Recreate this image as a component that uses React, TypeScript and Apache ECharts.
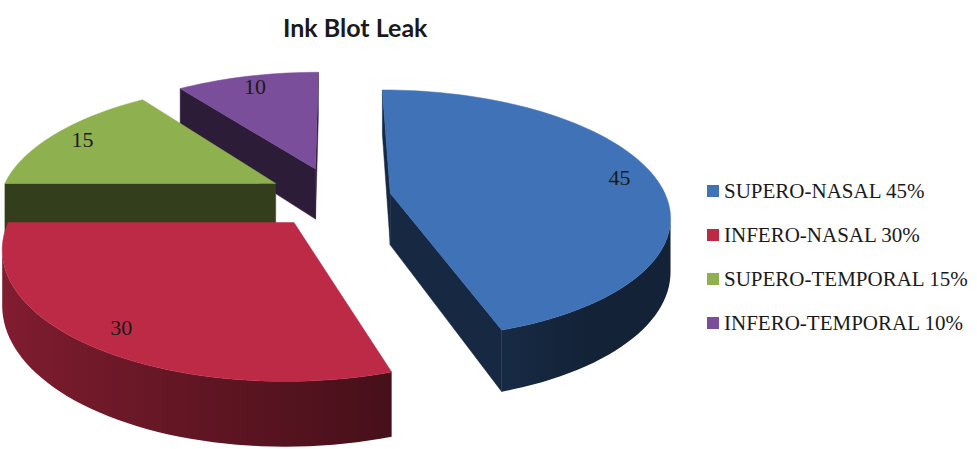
import React, { useEffect, useRef } from 'react';
import * as echarts from 'echarts';

const categories = ['SUPERO-NASAL', 'INFERO-NASAL', 'SUPERO-TEMPORAL', 'INFERO-TEMPORAL'];
const values = [45, 30, 15, 10];
const colors = ['#3F72B7', '#BD2A45', '#8EB04F', '#7B4E9B'];
const explode = [0.2, 0.25, 0.25, 0.25];

const CX = 336, CY = 197, RX = 276, RY = 122, K = 0.17, T = 52;
const SERIF = 'Liberation Serif, DejaVu Serif, serif';

function proj(X: number, Z: number, h: number): number[] {
  const p = 1 / (1 + K * Z);
  return [CX + RX * X * p, CY - (RY * Z + T * h) * p];
}

function shadeRGB(hex: string, f: number): number[] {
  const n = parseInt(hex.slice(1), 16);
  return [((n >> 16) & 255) * f, ((n >> 8) & 255) * f, (n & 255) * f].map(Math.round);
}
function shade(hex: string, f: number): string {
  const c = shadeRGB(hex, f);
  return `rgb(${c[0]},${c[1]},${c[2]})`;
}

function area(pts: number[][]): number {
  let s = 0;
  for (let i = 0; i < pts.length; i++) {
    const a = pts[i], b = pts[(i + 1) % pts.length];
    s += a[0] * b[1] - b[0] * a[1];
  }
  return s;
}

export default function App() {
  const ref = useRef<HTMLDivElement>(null);
  useEffect(() => {
    if (!ref.current) return;
    const chart = echarts.init(ref.current, null, { renderer: 'svg' });
    const order = [3, 2, 0, 1]; // draw back to front
    const renderItem = (params: any, api: any) => {
      const i = params.dataIndex;
      const total = values.reduce((s, v) => s + v, 0);
      let before = 0;
      for (let j = 0; j < i; j++) before += values[j];
      const v = api.value(0);
      const a0 = (before / total) * 360;
      const a1 = ((before + v) / total) * 360;
      const rad = (d: number) => (d * Math.PI) / 180;
      const m = rad((a0 + a1) / 2);
      const e = explode[i];
      const ox = e * Math.sin(m), oz = e * Math.cos(m);
      const pt = (th: number, r: number, h: number) =>
        proj(ox + r * Math.sin(rad(th)), oz + r * Math.cos(rad(th)), h);
      const base = colors[i];
      const zb = order.indexOf(i) * 100;
      const children: any[] = [];
      const N = Math.max(8, Math.ceil((a1 - a0) / 2));
      // radial faces
      const f0 = [pt(a0, 1, 0), pt(0, 0, 0), pt(0, 0, -1), pt(a0, 1, -1)];
      const f1 = [pt(0, 0, 0), pt(a1, 1, 0), pt(a1, 1, -1), pt(0, 0, -1)];
      [f0, f1].forEach((f) => {
        if (area(f) > 0) {
          children.push({
            type: 'polygon',
            shape: { points: f },
            style: { fill: shade(base, 0.36), stroke: shade(base, 0.36), lineWidth: 0.5 },
            z2: zb + 1,
          });
        }
      });
      // outer wall: collect visible samples, one polygon with gradient
      const vis: number[] = [];
      for (let s = 0; s < N; s++) {
        const t1 = a0 + ((a1 - a0) * s) / N;
        const t2 = a0 + ((a1 - a0) * (s + 1)) / N;
        const q = [pt(t1, 1, 0), pt(t1, 1, -1), pt(t2, 1, -1), pt(t2, 1, 0)];
        if (area(q) > 0) {
          if (vis.length === 0 || vis[vis.length - 1] !== t1) vis.push(t1);
          vis.push(t2);
        }
      }
      if (vis.length > 1) {
        const topPts = vis.map((t) => pt(t, 1, 0));
        const botPts = vis.map((t) => pt(t, 1, -1));
        const poly = topPts.concat(botPts.slice().reverse());
        const xs = topPts.map((p) => p[0]);
        const xmin = Math.min(...xs), xmax = Math.max(...xs);
        const stops = vis.map((t, k) => {
          const f = Math.min(0.72, Math.max(0.3, 0.45 + 0.25 * -Math.sin(rad(t))));
          return { offset: xmax > xmin ? (xs[k] - xmin) / (xmax - xmin) : 0, color: shade(base, f) };
        }).sort((a, b) => a.offset - b.offset);
        children.push({
          type: 'polygon',
          shape: { points: poly },
          style: {
            fill: { type: 'linear', x: xmin, y: 0, x2: xmax, y2: 0, global: true, colorStops: stops },
          },
          z2: zb + 2,
        });
      }
      // top face
      const top: number[][] = [pt(0, 0, 0)];
      for (let s = 0; s <= N; s++) top.push(pt(a0 + ((a1 - a0) * s) / N, 1, 0));
      children.push({
        type: 'polygon',
        shape: { points: top },
        style: { fill: base, stroke: base, lineWidth: 0.5 },
        z2: zb + 5,
      });
      const lp = pt((a0 + a1) / 2, 0.87, 0);
      children.push({
        type: 'text',
        x: lp[0],
        y: lp[1],
        style: {
          text: String(v),
          fill: '#1a1a1a',
          font: '22px ' + SERIF,
          align: 'center',
          verticalAlign: 'middle',
        },
        z2: zb + 9,
      });
      return { type: 'group', children };
    };

    chart.setOption({
      animation: false,
      backgroundColor: '#ffffff',
      title: {
        text: 'Ink Blot Leak',
        left: 278,
        top: 9,
        textStyle: { fontFamily: 'Lato', fontWeight: 'bold', fontSize: 25, color: '#1a1a1a' },
      },
      legend: {
        orient: 'vertical',
        left: 702,
        top: 175,
        itemWidth: 12,
        itemHeight: 12,
        itemGap: 22,
        icon: 'rect',
        selectedMode: false,
        formatter: (name: string) => `${name} ${values[categories.indexOf(name)]}%`,
        textStyle: { fontFamily: SERIF, fontSize: 21, lineHeight: 22, color: '#1a1a1a' },
        data: categories,
      },
      series: [
        {
          type: 'custom',
          coordinateSystem: 'none',
          renderItem,
          data: values,
          silent: true,
        },
        {
          type: 'pie',
          center: [-500, -500],
          radius: 1,
          silent: true,
          label: { show: false },
          labelLine: { show: false },
          data: categories.map((n, i) => ({ name: n, value: values[i], itemStyle: { color: colors[i] } })),
        },
      ],
    });
    return () => chart.dispose();
  }, []);
  return (
    <div
      ref={ref}
      style={{ position: 'fixed', left: 0, top: 0, width: 977, height: 449 }}
    />
  );
}
